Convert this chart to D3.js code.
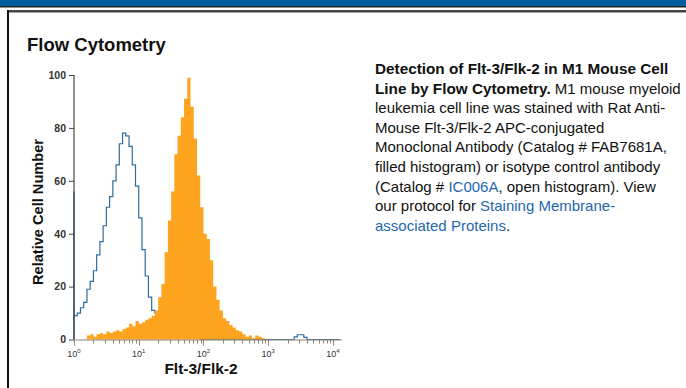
<!DOCTYPE html>
<html>
<head>
<meta charset="utf-8">
<script src="https://cdn.jsdelivr.net/npm/d3@7"></script>
<style>
  body { margin: 0; background: #fff; }
  svg { display: block; font-family: "Liberation Sans", Arial, sans-serif; }
</style>
</head>
<body>
<div id="graph"></div>
<script>
// histogram bins are 0.05 decades wide, starting at 10^0
var binStep = 0.05;
var yTicks = [0, 20, 40, 60, 80, 100];
var xDecades = [0, 1, 2, 3, 4];

// isotype control (open histogram), pile-up on the first channel
var isotypeEdge = 56;
var isotypeCounts = [
  9, 10, 12, 14, 19, 22, 26, 32, 37, 43,
  50, 54, 60, 66, 74, 78, 77, 73, 66, 58,
  46, 34, 24, 16, 11, 10, 7, 5, 4, 3,
  2, 2, 1.5, 1, 1, 1, 0.5, 0.5, 0.5, 0,
  0, 0, 0, 0, 0, 0, 0, 0, 0, 0,
  0, 0, 0, 0, 0, 0, 0, 0, 0, 0,
  0, 0, 0, 0, 0, 0, 0, 0, 1, 1.8,
  1.8, 0.8, 0, 0, 0, 0, 0, 0, 0, 0,
  0, 0
];

// FAB7681A stained (filled histogram)
var stainedCounts = [
  0, 0, 0, 0, 1.5, 2, 1, 2, 2.5, 2,
  3, 2.5, 3, 3.5, 3, 4, 4.5, 6, 5, 7,
  6, 6.5, 7.5, 8, 9, 11, 16, 21, 33, 45,
  56, 70, 77, 84, 91, 99, 88, 76, 62, 50,
  40, 38, 30, 20, 15, 11, 8, 7, 5.5, 4.5,
  3.5, 3, 2, 1, 1.5, 0.5, 1.5, 1, 0.5, 0
];

var captionLines = [
  [{t: "Detection of Flt-3/Flk-2 in M1 Mouse Cell", b: true}],
  [{t: "Line by Flow Cytometry.", b: true}, {t: " M1 mouse myeloid"}],
  [{t: "leukemia cell line was stained with Rat Anti-"}],
  [{t: "Mouse Flt-3/Flk-2 APC-conjugated"}],
  [{t: "Monoclonal Antibody (Catalog # FAB7681A,"}],
  [{t: "filled histogram) or isotype control antibody"}],
  [{t: "(Catalog # "}, {t: "IC006A", link: true}, {t: ", open histogram). View"}],
  [{t: "our protocol for "}, {t: "Staining Membrane-", link: true}],
  [{t: "associated Proteins", link: true}, {t: "."}]
];

var width = 686, height = 388;
var svg = d3.select("#graph").append("svg")
  .attr("width", width)
  .attr("height", height);

var xScale = d3.scaleLog()
  .domain([1, Math.pow(10, 4.14)])
  .range([74, 342]);
var yScale = d3.scaleLinear()
  .domain([0, 100])
  .range([339.5, 75]);

function binPoints(counts) {
  var pts = counts.map(function(v, i) {
    return [Math.pow(10, i * binStep), v];
  });
  pts.push([Math.pow(10, counts.length * binStep), counts[counts.length - 1]]);
  return pts;
}

function drawFrame() {
  svg.append("rect").attr("x", 0).attr("y", 0)
    .attr("width", width).attr("height", 6).attr("fill", "#005e9e");
  svg.append("rect").attr("x", 0).attr("y", 6)
    .attr("width", width).attr("height", 1.5).attr("fill", "#222");
  svg.append("rect").attr("x", 7).attr("y", 10)
    .attr("width", width - 7).attr("height", 2.5).attr("fill", "#444");
  svg.append("rect").attr("x", 7).attr("y", 10)
    .attr("width", 2).attr("height", height - 10).attr("fill", "#111");

  svg.append("text")
    .attr("x", 27)
    .attr("y", 51)
    .attr("font-size", 18.5)
    .attr("font-weight", "bold")
    .attr("fill", "#111")
    .text("Flow Cytometry");
}

function drawHistograms() {
  var chartLayer = svg.append("g").attr("class", "chartLayer");

  var isoPts = [[1, 0], [1, isotypeEdge]].concat(binPoints(isotypeCounts));
  var line = d3.line()
    .x(function(d) { return xScale(d[0]); })
    .y(function(d) { return yScale(d[1]); })
    .curve(d3.curveStepAfter);

  chartLayer.append("path")
    .attr("d", line(isoPts))
    .attr("fill", "none")
    .attr("stroke", "#2f6c9e")
    .attr("stroke-width", 1.2);

  var area = d3.area()
    .x(function(d) { return xScale(d[0]); })
    .y0(yScale(0))
    .y1(function(d) { return yScale(d[1]); })
    .curve(d3.curveStepAfter);

  chartLayer.append("path")
    .attr("d", area(binPoints(stainedCounts)))
    .attr("fill", "#ffa41f");
}

function drawAxes() {
  var axisLayer = svg.append("g").attr("class", "axisLayer");

  var yAxis = d3.axisLeft(yScale)
    .tickValues(yTicks)
    .tickSize(5)
    .tickPadding(3);
  var yg = axisLayer.append("g")
    .attr("transform", "translate(74,0)")
    .call(yAxis);
  yg.select(".domain").attr("d", "M0," + yScale(100) + "V" + yScale(0)).attr("stroke", "#222");
  yg.selectAll(".tick line").attr("stroke", "#444");
  yg.selectAll(".tick text")
    .attr("font-size", 10.5)
    .attr("font-weight", "bold")
    .attr("fill", "#333")
    .attr("font-family", "Liberation Sans, Arial, sans-serif");

  var minor = [];
  xDecades.forEach(function(k) {
    for (var m = 1; m < 10; m++) {
      var v = m * Math.pow(10, k);
      if (v <= xScale.domain()[1]) minor.push(v);
    }
  });

  var xg = axisLayer.append("g")
    .attr("transform", "translate(0," + yScale(0) + ")");
  xg.append("line")
    .attr("x1", xScale.range()[0]).attr("x2", xScale.range()[1])
    .attr("y1", 0.5).attr("y2", 0.5)
    .attr("stroke", "#8e8471")
    .attr("stroke-width", 1.2);
  xg.selectAll(".mtick")
    .data(minor)
    .enter().append("line")
    .attr("class", "mtick")
    .attr("x1", function(d) { return Math.round(xScale(d)) + 0.5; })
    .attr("x2", function(d) { return Math.round(xScale(d)) + 0.5; })
    .attr("y1", 0.5)
    .attr("y2", function(d) { return xDecades.indexOf(Math.log10(d)) >= 0 ? 6 : 4; })
    .attr("stroke", "#8e8471");

  var lbl = xg.selectAll(".xlab")
    .data(xDecades)
    .enter().append("text")
    .attr("class", "xlab")
    .attr("x", function(d) { return xScale(Math.pow(10, d)); })
    .attr("y", 17)
    .attr("text-anchor", "middle")
    .attr("font-size", 9)
    .attr("fill", "#333");
  lbl.append("tspan").text("10");
  lbl.append("tspan")
    .attr("dy", -3.5)
    .attr("font-size", 6)
    .text(function(d) { return d; });

  axisLayer.append("text")
    .attr("x", 201)
    .attr("y", 374)
    .attr("text-anchor", "middle")
    .attr("font-size", 15.5)
    .attr("font-weight", "bold")
    .attr("fill", "#111")
    .text("Flt-3/Flk-2");

  axisLayer.append("text")
    .attr("transform", "translate(" + [43, 212] + ")rotate(-90)")
    .attr("text-anchor", "middle")
    .attr("font-size", 14.6)
    .attr("font-weight", "bold")
    .attr("fill", "#111")
    .text("Relative Cell Number");
}

function drawCaption() {
  var cap = svg.append("g").attr("class", "caption")
    .attr("fill", "#111");
  cap.selectAll("text")
    .data(captionLines)
    .enter().append("text")
    .attr("x", 375)
    .attr("y", function(d, i) { return 74 + i * 19.6; })
    .selectAll("tspan")
    .data(function(d) { return d; })
    .enter().append("tspan")
    .attr("font-size", function(d) { return d.b ? 15.3 : 15; })
    .attr("font-weight", function(d) { return d.b ? "bold" : null; })
    .attr("fill", function(d) { return d.link ? "#1d67ad" : null; })
    .style("white-space", "pre")
    .text(function(d) { return d.t; });
}

drawFrame();
drawHistograms();
drawAxes();
drawCaption();
</script>
</body>
</html>
